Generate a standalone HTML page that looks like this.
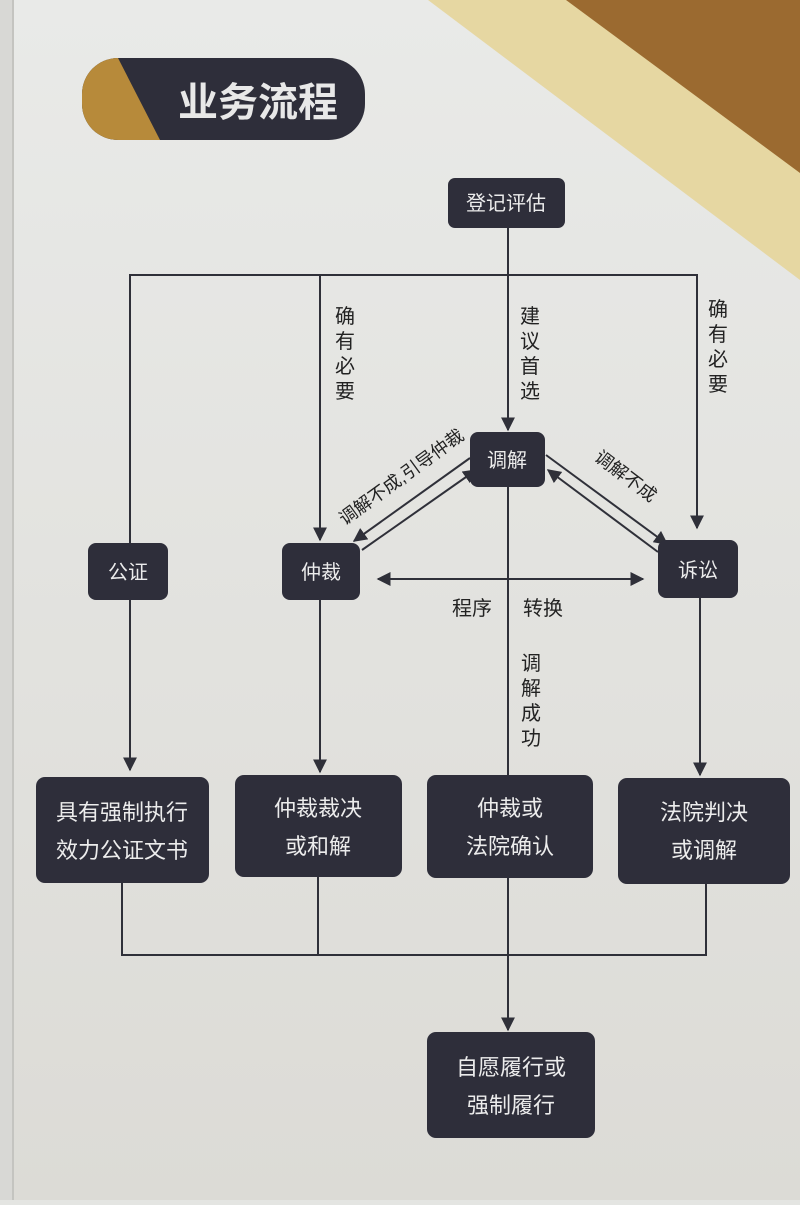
<!DOCTYPE html>
<html><head><meta charset="utf-8"><style>
html,body{margin:0;padding:0;}
body{width:800px;height:1200px;overflow:hidden;background:#e4e5e2;}
svg text{font-family:"Liberation Sans","Noto Sans CJK SC",sans-serif;}
</style></head><body>
<svg width="800" height="1200" viewBox="0 0 800 1200" xmlns="http://www.w3.org/2000/svg">
<defs>
<linearGradient id="bg" x1="0" y1="0" x2="0" y2="1">
<stop offset="0" stop-color="#e9eae8"/><stop offset="1" stop-color="#dcdbd6"/>
</linearGradient>
<marker id="ah" viewBox="0 0 10 10" refX="9" refY="5" markerWidth="7" markerHeight="7" orient="auto-start-reverse">
<path d="M0,0 L10,5 L0,10 z" fill="#2f3039"/>
</marker>
</defs>
<rect width="800" height="1200" fill="url(#bg)"/>
<rect x="0" y="0" width="12" height="1200" fill="#d8d8d5"/>
<line x1="13" y1="0" x2="13" y2="1200" stroke="#c4c4c0" stroke-width="2"/>
<polygon points="428,0 800,0 800,280" fill="#e6d7a2"/>
<polygon points="566,0 800,0 800,173" fill="#9b6a30"/>
<rect x="82" y="58" width="283" height="82" rx="36" fill="#2e2e3a"/>
<path d="M118,58 L160,140 L118,140 A36,36 0 0 1 82,104 L82,94 A36,36 0 0 1 118,58 z" fill="#b78a3a"/>
<text x="258" y="116" font-size="40" font-weight="bold" fill="#e8e8e8" text-anchor="middle">业务流程</text>
<g stroke="#2f3039" stroke-width="2" fill="none">
<line x1="508" y1="228" x2="508" y2="430" marker-end="url(#ah)"/>
<polyline points="130,760 130,275 697,275 697,528" marker-end="url(#ah)"/>
<line x1="130" y1="275" x2="130" y2="770" marker-end="url(#ah)"/>
<line x1="320" y1="275" x2="320" y2="540" marker-end="url(#ah)"/>
<line x1="320" y1="600" x2="320" y2="772" marker-end="url(#ah)"/>
<line x1="700" y1="598" x2="700" y2="775" marker-end="url(#ah)"/>
<line x1="508" y1="487" x2="508" y2="1030" marker-end="url(#ah)"/>
<line x1="378" y1="579" x2="643" y2="579" marker-start="url(#ah)" marker-end="url(#ah)"/>
<line x1="470" y1="458" x2="354" y2="541" marker-end="url(#ah)"/>
<line x1="362" y1="550" x2="476" y2="470" marker-end="url(#ah)"/>
<line x1="546" y1="455" x2="667" y2="544" marker-end="url(#ah)"/>
<line x1="658" y1="552" x2="548" y2="470" marker-end="url(#ah)"/>
<polyline points="122,880 122,955 706,955 706,880"/>
<line x1="318" y1="877" x2="318" y2="955"/>
</g>
<g fill="#2e2e3a">
<rect x="448" y="178" width="117" height="50" rx="7"/>
<rect x="470" y="432" width="75" height="55" rx="8"/>
<rect x="88" y="543" width="80" height="57" rx="8"/>
<rect x="282" y="543" width="78" height="57" rx="8"/>
<rect x="658" y="540" width="80" height="58" rx="8"/>
<rect x="36" y="777" width="173" height="106" rx="9"/>
<rect x="235" y="775" width="167" height="102" rx="9"/>
<rect x="427" y="775" width="166" height="103" rx="9"/>
<rect x="618" y="778" width="172" height="106" rx="9"/>
<rect x="427" y="1032" width="168" height="106" rx="9"/>
</g>
<g fill="#ececec" font-size="20" text-anchor="middle">
<text x="506" y="210">登记评估</text>
<text x="507" y="467">调解</text>
<text x="128" y="579">公证</text>
<text x="321" y="579">仲裁</text>
<text x="698" y="577">诉讼</text>
<text x="122" y="820" font-size="22">具有强制执行</text>
<text x="122" y="858" font-size="22">效力公证文书</text>
<text x="318" y="816" font-size="22">仲裁裁决</text>
<text x="318" y="854" font-size="22">或和解</text>
<text x="510" y="816" font-size="22">仲裁或</text>
<text x="510" y="854" font-size="22">法院确认</text>
<text x="704" y="820" font-size="22">法院判决</text>
<text x="704" y="858" font-size="22">或调解</text>
<text x="511" y="1075" font-size="22">自愿履行或</text>
<text x="511" y="1113" font-size="22">强制履行</text>
</g>
<g fill="#222" font-size="20" text-anchor="middle">
<text x="345" y="323">确</text><text x="345" y="348">有</text><text x="345" y="373">必</text><text x="345" y="398">要</text>
<text x="530" y="323">建</text><text x="530" y="348">议</text><text x="530" y="373">首</text><text x="530" y="398">选</text>
<text x="718" y="316">确</text><text x="718" y="341">有</text><text x="718" y="366">必</text><text x="718" y="391">要</text>
<text x="531" y="670">调</text><text x="531" y="695">解</text><text x="531" y="720">成</text><text x="531" y="745">功</text>
<text x="472" y="615">程序</text><text x="543" y="615">转换</text>
<text x="0" y="0" font-size="18" transform="translate(405,482) rotate(-36)">调解不成,引导仲裁</text>
<text x="0" y="0" font-size="18" transform="translate(622,481) rotate(37)">调解不成</text>
</g>
</svg>
</body></html>
